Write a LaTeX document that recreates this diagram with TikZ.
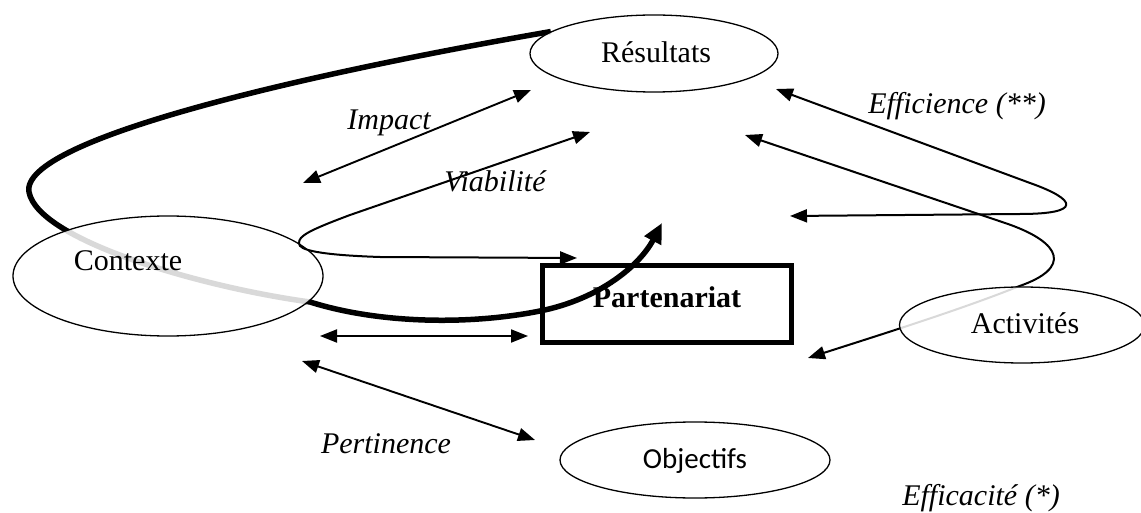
\documentclass[tikz,border=0pt]{standalone}
\usepackage{fontspec}
\setmainfont{Liberation Serif}
\newfontfamily\calibrifont{Carlito}
\usetikzlibrary{arrows.meta,shapes.geometric}
\pgfdeclarelayer{behind}
\pgfsetlayers{behind,main}

\begin{document}
\begin{tikzpicture}[x=1pt,y=-1pt,>={Triangle[length=17pt,width=13pt]},
  line cap=round,line join=round,
  font=\fontsize{30}{36}\selectfont,
  oval/.style={ellipse,draw,line width=1.3pt,fill=white,fill opacity=.85,inner sep=0pt},
  word/.style={anchor=base,inner sep=0pt},
  tag/.style={anchor=base,inner sep=0pt,font=\fontsize{30}{36}\selectfont\itshape},
  link/.style={<->,line width=1.9pt},
  loopy/.style={<->,line width=2pt},
  heavy/.style={-{Triangle[length=20pt,width=18pt]},line width=5.5pt}]
\path[use as bounding box] (0,0) rectangle (1141,513);

% the four ellipses
\node[oval,minimum width=248,minimum height=77] (res) at (654,53.5) {};
\node[oval,minimum width=310,minimum height=120] (ctx) at (168,276) {};
\node[oval,minimum width=245,minimum height=76] (act) at (1022,325) {};
\node[oval,minimum width=270,minimum height=76] (obj) at (695,460) {};

\node[word] (resText) at (656,63) {Résultats};
\node[word] (ctxText) at (128,270) {Contexte};
\node[word] (actText) at (1025,333) {Activités};
\node[word,font=\calibrifont\fontsize{29}{34}\selectfont] (objText) at (695,468) {Objectifs};

% free arrow ends
\coordinate (impA) at (303,183);
\coordinate (impB) at (531,90);
\coordinate (viaTip) at (590,132);
\coordinate (partTip) at (577,258);
\coordinate (dblA) at (320,336);
\coordinate (dblB) at (528,336);
\coordinate (perA) at (302,361);
\coordinate (perB) at (535,440);
\coordinate (effA) at (776,89);
\coordinate (effB) at (790,216);
\coordinate (actA) at (745,135);
\coordinate (actB) at (808,358);
\coordinate (bigTip) at (662,223);

% box and curves, under the ellipses
\begin{pgfonlayer}{behind}
  \fill[white] (0,0) rectangle (1141,513);
  \node[draw,line width=5pt,minimum width=249,minimum height=77,inner sep=0pt] (part) at (667,304) {};
  \node[word,font=\fontsize{30}{36}\selectfont\bfseries] (partText) at (667,307) {Partenariat};
  \draw[heavy] (res.168) .. controls (300,75) and (20,140) .. (29,192)
    .. controls (38,240) and (200,287) .. (310,302)
    .. controls (380,324) and (470,325) .. (540,311)
    .. controls (600,299) and (640,265) .. (bigTip);
  \draw[loopy] (actA) -- (1008,224) .. controls (1062,243) and (1072,268) .. (act.95)
    .. controls (960,310) and (870,338) .. (actB);
\end{pgfonlayer}

\draw[link] (impA) -- (impB);
\draw[loopy] (viaTip) -- (350,215) .. controls (310,230) and (298,236) .. (ctx.14)
  .. controls (298,250) and (320,255) .. (380,257) -- (partTip);
\draw[link] (dblA) -- (dblB);
\draw[link] (perA) -- (perB);
\draw[loopy] (effA) -- (1030,183) .. controls (1078,200) and (1082,214) .. (1020,214) -- (effB);

\node[tag] (impText) at (389,130) {Impact};
\node[tag] (viaText) at (495,192) {Viabilité};
\node[tag] (effText) at (957,114) {Efficience (**)};
\node[tag] (perText) at (386,453) {Pertinence};
\node[tag] (efcText) at (981,505) {Efficacité (*)};
\end{tikzpicture}
\end{document}
